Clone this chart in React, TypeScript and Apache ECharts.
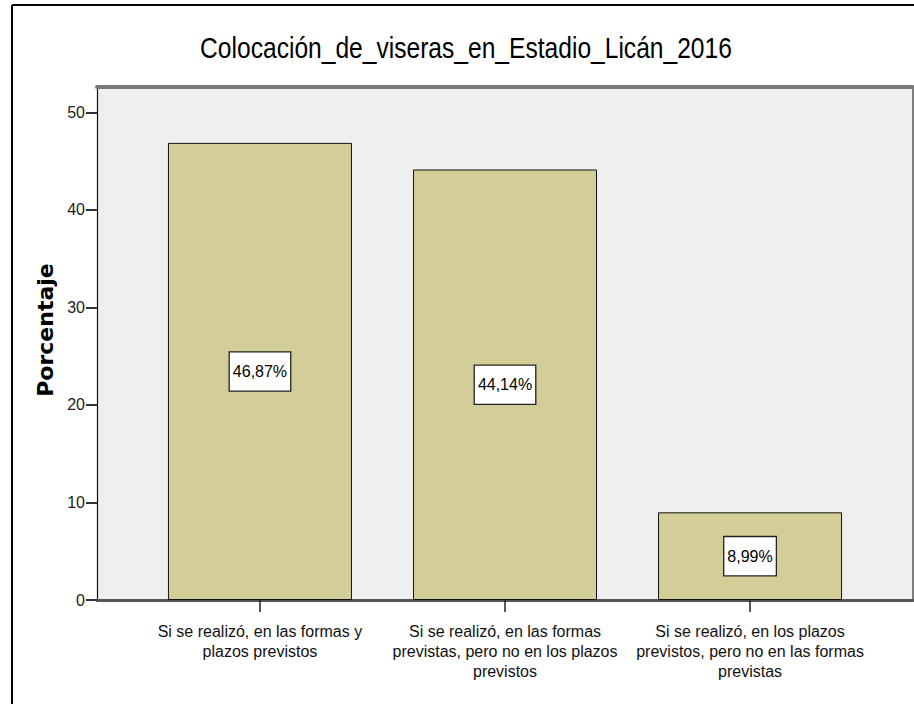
import React, { useEffect, useRef } from 'react';
import * as echarts from 'echarts';

const categories = [
  'Si se realizó, en las formas y\nplazos previstos',
  'Si se realizó, en las formas\nprevistas, pero no en los plazos\nprevistos',
  'Si se realizó, en los plazos\nprevistos, pero no en las formas\nprevistas',
];
const percentages = [46.87, 44.14, 8.99];
const categoryPositions = [0, 1, 2];
const yTicks = [0, 10, 20, 30, 40, 50];
const chartTitle = 'Colocación_de_viseras_en_Estadio_Licán_2016';
const yAxisTitle = 'Porcentaje';

const SANS = '"Liberation Sans", Arial, sans-serif';

export default function App() {
  const ref = useRef<HTMLDivElement>(null);
  useEffect(() => {
    if (!ref.current) return;
    const chart = echarts.init(ref.current, undefined, { renderer: 'svg' });
    const xMin = -0.665;
    const xMax = 2.665;
    const yMax = 52.6;
    const option: any = {
      animation: false,
      backgroundColor: '#ffffff',
      grid: {
        left: 97,
        right: 1,
        top: 87,
        bottom: 104,
        show: true,
        backgroundColor: '#EFEFEF',
        borderWidth: 0,
      },
      xAxis: [
        {
          type: 'value',
          min: xMin,
          max: xMax,
          position: 'bottom',
          axisLine: { show: true, onZero: false, lineStyle: { color: '#555', width: 3 } },
          axisTick: { show: true, customValues: categoryPositions, length: 12, lineStyle: { color: '#222', width: 1.5 } },
          axisLabel: {
            customValues: categoryPositions,
            showMinLabel: true,
            showMaxLabel: true,
            hideOverlap: false,
            formatter: (v: number) => categories[Math.round(v)] ?? '',
            margin: 21,
            fontFamily: SANS,
            fontSize: 16,
            lineHeight: 20,
            color: '#111',
            align: 'center',
          },
          splitLine: { show: false },
        },
        {
          type: 'value',
          min: xMin,
          max: xMax,
          position: 'top',
          axisLine: { show: true, onZero: false, lineStyle: { color: '#7a7a7a', width: 4 } },
          axisTick: { show: false },
          axisLabel: { show: false },
          splitLine: { show: false },
        },
      ],
      yAxis: [
        {
          type: 'value',
          min: 0,
          max: yMax,
          position: 'left',
          axisLine: { show: true, onZero: false, lineStyle: { color: '#111', width: 1.2 } },
          axisTick: { show: true, customValues: yTicks, length: 11, lineStyle: { color: '#333', width: 2 } },
          axisLabel: { customValues: yTicks, showMinLabel: true, showMaxLabel: true, margin: 12, fontFamily: SANS, fontSize: 16, color: '#222' },
          splitLine: { show: false },
        },
        {
          type: 'value',
          min: 0,
          max: yMax,
          position: 'right',
          axisLine: { show: true, onZero: false, lineStyle: { color: '#555', width: 1.5 } },
          axisTick: { show: false },
          axisLabel: { show: false },
          splitLine: { show: false },
        },
      ],
      series: [
        {
          type: 'bar',
          xAxisIndex: 0,
          yAxisIndex: 0,
          data: percentages.map((v, i) => [categoryPositions[i], v]),
          barWidth: 184,
          itemStyle: { color: '#D3CE98', borderColor: '#111', borderWidth: 1 },
          label: {
            show: true,
            position: 'inside',
            formatter: (p: any) => p.value[1].toFixed(2).replace('.', ',') + '%',
            fontFamily: SANS,
            fontSize: 16,
            lineHeight: 18,
            color: '#000',
            backgroundColor: '#ffffff',
            borderColor: '#222',
            borderWidth: 1.3,
            padding: [10, 3, 10, 3],
          },
        },
      ],
      graphic: [
        { type: 'line', shape: { x1: 12, y1: 5, x2: 914, y2: 5 }, style: { stroke: '#000', lineWidth: 2 } },
        { type: 'line', shape: { x1: 12, y1: 5, x2: 12, y2: 704 }, style: { stroke: '#000', lineWidth: 2 } },
        {
          type: 'text',
          x: 466,
          y: 48,
          scaleX: 0.82,
          style: {
            text: chartTitle,
            fontFamily: SANS,
            fontSize: 30,
            fill: '#000',
            align: 'center',
            verticalAlign: 'middle',
          },
        },
        {
          type: 'text',
          x: 45,
          y: 330,
          rotation: Math.PI / 2,
          style: {
            text: yAxisTitle,
            fontFamily: '"DejaVu Sans", sans-serif',
            fontWeight: 'bold',
            fontSize: 22,
            fill: '#000',
            align: 'center',
            verticalAlign: 'middle',
          },
        },
      ],
    };
    chart.setOption(option);
    return () => chart.dispose();
  }, []);
  return (
    <div
      ref={ref}
      style={{ position: 'absolute', left: 0, top: 0, width: 914, height: 704 }}
    />
  );
}
